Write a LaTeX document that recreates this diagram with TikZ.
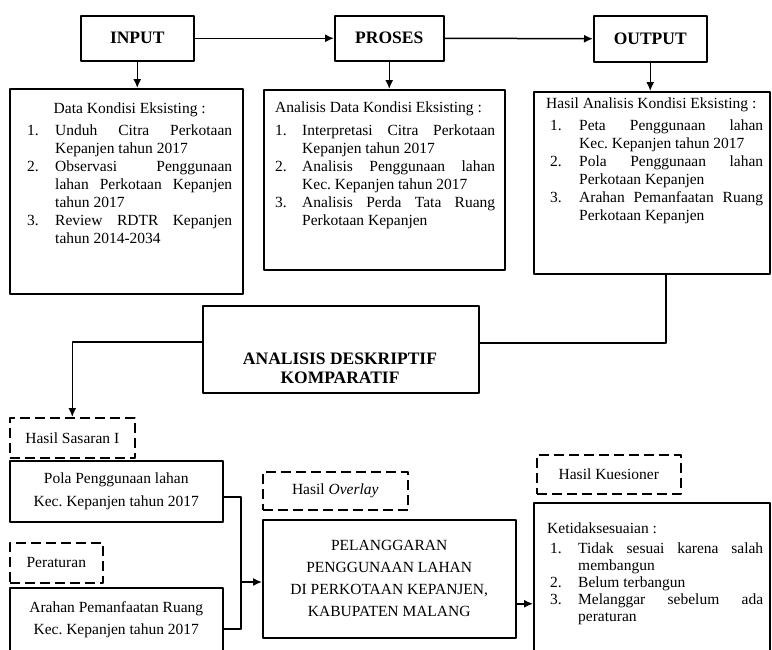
\documentclass[tikz,border=0pt]{standalone}
\usepackage{fontspec}
\setmainfont{Liberation Serif}
\usetikzlibrary{arrows.meta}
\hyphenpenalty=10000 \exhyphenpenalty=10000 \frenchspacing
\newcommand{\numitem}[3]{\par\hangindent=#1\hangafter=1\noindent\makebox[#1][l]{#2}#3\par}
\begin{document}
\begin{tikzpicture}[x=1pt,y=-1pt,line join=round,>={Latex[length=9pt,width=8pt]},
  box/.style={draw,line width=1.5pt,inner sep=0pt,anchor=north west},
  dbox/.style={box,line width=1.6pt,dash pattern=on 10pt off 5pt},
  titl/.style={font=\fontsize{17.5}{19}\selectfont\bfseries},
  txt/.style={font=\fontsize{15.5}{18}\selectfont},
  body/.style={txt,inner sep=0pt,anchor=north west,align=justify},
  link/.style={line width=1.5pt}]
\useasboundingbox (0,0) rectangle (772,649);
% baris atas
\node[box,titl,minimum width=113,minimum height=45] (inp) at (80,15) {INPUT};
\node[box,titl,minimum width=109,minimum height=45] (pro) at (334,15) {PROSES};
\node[box,titl,minimum width=113,minimum height=46] (out) at (593,15) {OUTPUT};
\draw[link,->] (inp.east) -- (pro.west);
\draw[link,->] (pro.east) -- (out.west);
% kotak rincian
\node[box,minimum width=233,minimum height=205] (inpd) at (9,88) {};
\node[body,text width=205] (inpdt) at (27,103) {\noindent\makebox[\hsize]{Data Kondisi Eksisting :}\par\vspace{4pt}
  \numitem{28pt}{1.}{Unduh Citra Perkotaan\linebreak Kepanjen tahun 2017}
  \numitem{28pt}{2.}{Observasi Penggunaan\linebreak lahan Perkotaan Kepanjen\linebreak tahun 2017}
  \numitem{28pt}{3.}{Review RDTR Kepanjen\linebreak tahun 2014-2034}};
\node[box,minimum width=241,minimum height=180] (prod) at (263,89) {};
\node[body,text width=220] (prodt) at (275,102) {\noindent Analisis Data Kondisi Eksisting :\par\vspace{5pt}
  \numitem{27pt}{1.}{Interpretasi Citra Perkotaan\linebreak Kepanjen tahun 2017}
  \numitem{27pt}{2.}{Analisis Penggunaan lahan\linebreak Kec. Kepanjen tahun 2017}
  \numitem{27pt}{3.}{Analisis Perda Tata Ruang\linebreak Perkotaan Kepanjen}};
\node[box,minimum width=236,minimum height=182] (outd) at (533,91) {};
\node[body,text width=217] (outdt) at (546,98) {\noindent Hasil Analisis Kondisi Eksisting :\par\vspace{4pt}
  \numitem{33pt}{\hspace{4pt}1.}{Peta Penggunaan lahan\linebreak Kec. Kepanjen tahun 2017}
  \numitem{33pt}{\hspace{4pt}2.}{Pola Penggunaan lahan\linebreak Perkotaan Kepanjen}
  \numitem{33pt}{\hspace{4pt}3.}{Arahan Pemanfaatan Ruang\linebreak Perkotaan Kepanjen}};
\draw[link,->] (inp.south) -- (inp.south |- inpd.north);
\draw[link,->] (pro.south) -- (pro.south |- prod.north);
\draw[link,->] (out.south) -- (out.south |- outd.north);
% analisis
\node[box,minimum width=276,minimum height=87] (ana) at (202,305) {};
\node[titl,align=center] (anat) at (340,368) {ANALISIS DESKRIPTIF\\KOMPARATIF};
\draw[link] ([xshift=14pt]outd.south) |- ([yshift=6.5pt]ana.east);
% bagian bawah
\node[dbox,txt,minimum width=125,minimum height=40] (sas) at (9,417) {Hasil Sasaran I};
\node[box,txt,align=center,font=\fontsize{15.5}{23}\selectfont,minimum width=213,minimum height=61] (pola) at (9,460) {Pola Penggunaan lahan\\Kec. Kepanjen tahun 2017};
\node[dbox,txt,minimum width=93,minimum height=40] (per) at (9,542) {Peraturan};
\node[box,txt,align=center,font=\fontsize{15.5}{22}\selectfont,minimum width=213,minimum height=64] (arah) at (9,587) {Arahan Pemanfaatan Ruang\\Kec. Kepanjen tahun 2017};
\node[dbox,txt,minimum width=145,minimum height=38] (ovl) at (262,471) {Hasil \textit{Overlay}};
\node[box,txt,align=center,font=\fontsize{15.5}{22}\selectfont,minimum width=253,minimum height=118] (pel) at (262,519) {PELANGGARAN\\PENGGUNAAN LAHAN\\DI PERKOTAAN KEPANJEN,\\KABUPATEN MALANG};
\node[dbox,txt,minimum width=144,minimum height=39] (kue) at (536,454) {Hasil Kuesioner};
\node[box,minimum width=236,minimum height=160] (ket) at (533,502) {};
\node[body,text width=216,font=\fontsize{15.5}{17}\selectfont] (kett) at (547,523) {\noindent Ketidaksesuaian :\par\vspace{3pt}
  \numitem{31pt}{\hspace{3pt}1.}{Tidak sesuai karena salah\linebreak membangun}
  \numitem{31pt}{\hspace{3pt}2.}{Belum terbangun}
  \numitem{31pt}{\hspace{3pt}3.}{Melanggar sebelum ada\linebreak peraturan}};
\draw[link,->] ([yshift=7.5pt]ana.west) -| (sas.north);
\coordinate (jn) at (241,582);
\draw[link] ([yshift=-5.5pt]pola.east) -| (jn) |- ([yshift=-9pt]arah.east);
\draw[link,->] (jn) -- (jn -| pel.west);
\coordinate (pk) at ([yshift=-25pt]pel.east);
\draw[link,->] (pk) -- (pk -| ket.west);
\end{tikzpicture}
\end{document}
